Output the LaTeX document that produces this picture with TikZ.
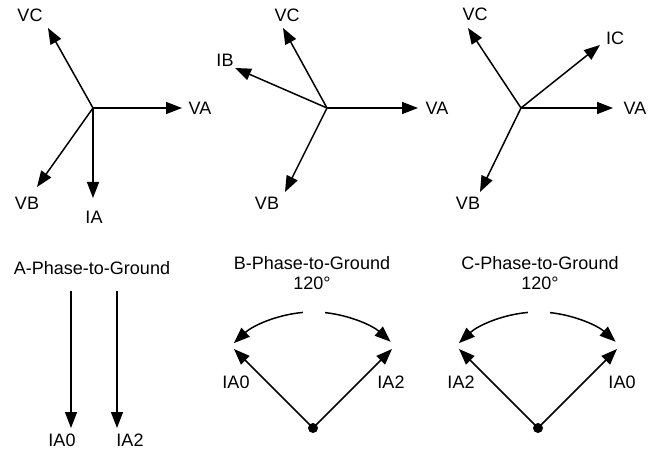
\documentclass[tikz,border=0pt]{standalone}
\usepackage{fontspec}
\setmainfont{Liberation Sans}
\usetikzlibrary{arrows.meta,calc}
\begin{document}
\begin{tikzpicture}[x=1pt,y=-1pt,
  vec/.style={line width=1.5pt,-{Triangle[length=16pt,width=12pt]}},
  lbl/.style={font=\fontsize{18}{20}\selectfont, inner sep=0pt},
  ttl/.style={font=\fontsize{18}{20}\selectfont, inner sep=0pt, align=center},
  dotst/.style={circle, fill=black, inner sep=0pt, minimum size=10pt}]
\useasboundingbox (0,0) rectangle (656,449);
% ---------- Diagram 1 ----------
\coordinate (o1) at (93,108);
\node[lbl] (va1) at (200,108) {VA};
\node[lbl] (vc1) at (30,15) {VC};
\node[lbl] (vb1) at (27,203) {VB};
\node[lbl] (ia1) at (94,217) {IA};
\coordinate (tva1) at (182,108);
\coordinate (tvc1) at (48,28);
\coordinate (tvb1) at (37,187);
\coordinate (tia1) at (93,198);
\draw[vec] (o1) -- (tva1);
\draw[vec] (o1) -- (tvc1);
\draw[vec] (o1) -- (tvb1);
\draw[vec] (o1) -- (tia1);
% ---------- Diagram 2 ----------
\coordinate (o2) at (327,108);
\node[lbl] (va2) at (437,108) {VA};
\node[lbl] (vc2) at (287,15) {VC};
\node[lbl] (ib2) at (225,60) {IB};
\node[lbl] (vb2) at (267,203) {VB};
\coordinate (tva2) at (418,108);
\coordinate (tvc2) at (283,28);
\coordinate (tib2) at (235,68);
\coordinate (tvb2) at (285,192);
\draw[vec] (o2) -- (tva2);
\draw[vec] (o2) -- (tvc2);
\draw[vec] (o2) -- (tib2);
\draw[vec] (o2) -- (tvb2);
% ---------- Diagram 3 ----------
\coordinate (o3) at (521,108);
\node[lbl] (va3) at (635,108) {VA};
\node[lbl] (vc3) at (475,14) {VC};
\node[lbl] (ic3) at (615,38) {IC};
\node[lbl] (vb3) at (468,203) {VB};
\coordinate (tva3) at (613,108);
\coordinate (tvc3) at (468,28);
\coordinate (tic3) at (600,45);
\coordinate (tvb3) at (480,192);
\draw[vec] (o3) -- (tva3);
\draw[vec] (o3) -- (tvc3);
\draw[vec] (o3) -- (tic3);
\draw[vec] (o3) -- (tvb3);
% ---------- A-Phase-to-Ground ----------
\node[ttl] (ta) at (92,268) {A-Phase-to-Ground};
\coordinate (a0s) at (71,291);
\coordinate (a0e) at (71,428);
\coordinate (a2s) at (117,291);
\coordinate (a2e) at (117,428);
\draw[vec] (a0s) -- (a0e);
\draw[vec] (a2s) -- (a2e);
\node[lbl] (ia0a) at (62,440) {IA0};
\node[lbl] (ia2a) at (130,440) {IA2};
% ---------- B-Phase-to-Ground ----------
\node[ttl] (tb) at (312,273) {B-Phase-to-Ground\\120°};
\node[dotst] (db) at (313,428) {};
\coordinate (bl) at ($(db.center)+(-79,-79)$);
\coordinate (br) at ($(db.center)+(79,-79)$);
\draw[vec] (db.center) -- (bl);
\draw[vec] (db.center) -- (br);
\coordinate (bal) at ($(db.center)+(-95:116)$);
\coordinate (bar) at ($(db.center)+(-84:116)$);
\draw[vec] (bal) arc[start angle=-95, end angle=-133, radius=116];
\draw[vec] (bar) arc[start angle=-84, end angle=-48, radius=116];
\node[lbl] (ia0b) at (236,382) {IA0};
\node[lbl] (ia2b) at (391,382) {IA2};
% ---------- C-Phase-to-Ground ----------
\node[ttl] (tc) at (540,273) {C-Phase-to-Ground\\120°};
\node[dotst] (dc) at (538,428) {};
\coordinate (cl) at ($(dc.center)+(-79,-79)$);
\coordinate (cr) at ($(dc.center)+(79,-79)$);
\draw[vec] (dc.center) -- (cl);
\draw[vec] (dc.center) -- (cr);
\coordinate (cal) at ($(dc.center)+(-95:116)$);
\coordinate (car) at ($(dc.center)+(-84:116)$);
\draw[vec] (cal) arc[start angle=-95, end angle=-133, radius=116];
\draw[vec] (car) arc[start angle=-84, end angle=-48, radius=116];
\node[lbl] (ia2c) at (461,382) {IA2};
\node[lbl] (ia0c) at (622,382) {IA0};
\end{tikzpicture}
\end{document}
